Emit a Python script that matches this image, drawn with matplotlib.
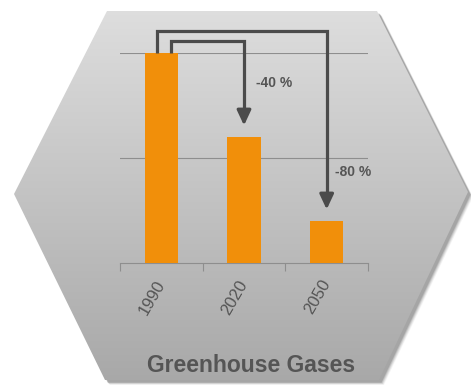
import numpy as np
import matplotlib
matplotlib.use("Agg")
import matplotlib.pyplot as plt
from matplotlib.patches import Polygon

# Emissions index (1990 = 100)
years = ["1990", "2020", "2050"]
emissions = [100, 60, 20]
title = "Greenhouse Gases"

BAR = "#f18f0a"
ARROW = "#4b4b4b"
TEXT = "#555555"
GRID = "#8e8e8e"

plt.rcParams["font.family"] = ["Liberation Sans", "DejaVu Sans"]

W, H = 471, 390
fig = plt.figure(figsize=(W / 100, H / 100), dpi=100)
fig.patch.set_facecolor("white")

# background hexagon in pixel coordinates
bg = fig.add_axes([0, 0, 1, 1])
bg.set_xlim(0, W)
bg.set_ylim(H, 0)
bg.axis("off")
hexagon = [(107, 11), (377, 11), (468, 192), (379, 380), (105, 380), (14, 194)]

# soft drop shadow: stacked offset copies with low alpha
for k, a in zip(range(6, 0, -1), [0.05, 0.07, 0.09, 0.12, 0.15, 0.2]):
    sh = [(x + 2 + k * 0.5, y + 2 + k * 0.5) for x, y in hexagon]
    bg.add_patch(Polygon(sh, closed=True, facecolor="#555555", edgecolor="none",
                         alpha=a, zorder=1))

hex_patch = Polygon(hexagon, closed=True, facecolor="none", edgecolor="none", zorder=2)
bg.add_patch(hex_patch)
grad = np.linspace(0, 1, 256).reshape(-1, 1)
cmap = matplotlib.colors.LinearSegmentedColormap.from_list("g", ["#dfdfdf", "#a7a7a7"])
img = bg.imshow(grad, extent=[0, W, H, 0], cmap=cmap, aspect="auto",
                zorder=2, interpolation="bilinear")
img.set_clip_path(hex_patch)
bg.set_xlim(0, W)
bg.set_ylim(H, 0)

# bar chart
left, right, top, base = 120, 368, 53, 263
ax = fig.add_axes([left / W, 1 - base / H, (right - left) / W, (base - top) / H])
ax.set_facecolor("none")
x = np.arange(len(years))
ax.bar(x, emissions, width=0.4, color=BAR, zorder=3)
ax.set_xlim(-0.5, len(years) - 0.5)
ax.set_ylim(0, 100)
ax.set_yticks([50, 100])
ax.yaxis.grid(True, color=GRID, linewidth=0.8)
ax.tick_params(axis="y", length=0, labelleft=False)
for s in ["top", "right", "left"]:
    ax.spines[s].set_visible(False)
ax.spines["bottom"].set_color(GRID)
ax.spines["bottom"].set_linewidth(0.8)

ax.set_xticks(x)
ax.set_xticklabels(years, rotation=60, fontsize=12, color=TEXT,
                   ha="right", va="center", rotation_mode="anchor")
ax.tick_params(axis="x", which="major", length=0, pad=13)
ax.set_xticks(np.arange(len(years) + 1) - 0.5, minor=True)
ax.tick_params(axis="x", which="minor", length=6, color=GRID, width=0.8)

# reduction arrows from the 1990 bar
start = emissions[0]
arrows = [(1, 0.12, 105.7), (2, -0.05, 110.5)]
label_pos = {1: (1.14, 85.7), 2: (2.10, 43.3)}
for i, x0, ytop in arrows:
    tip = emissions[i] + 5.5
    ax.plot([x0, x0, i, i], [start, ytop, ytop, tip + 4], color=ARROW, lw=2.3,
            solid_joinstyle="miter", solid_capstyle="butt", clip_on=False, zorder=4)
    ax.annotate("", xy=(i, tip), xytext=(i, tip + 7),
                arrowprops=dict(arrowstyle="-|>,head_width=0.42,head_length=0.9",
                                color=ARROW, lw=2.3, shrinkA=0, shrinkB=0),
                annotation_clip=False, zorder=4)
    pct = round((emissions[i] - start) / start * 100)
    lx, ly = label_pos[i]
    ax.text(lx, ly, f"{pct} %", fontsize=10, fontweight="bold", color=TEXT,
            ha="left", va="center", zorder=4)

fig.text(251 / W, 1 - 365 / H, title, fontsize=16.5, fontweight="bold",
         color=TEXT, ha="center", va="center")

fig.savefig("out.png", dpi=100, facecolor="white")
